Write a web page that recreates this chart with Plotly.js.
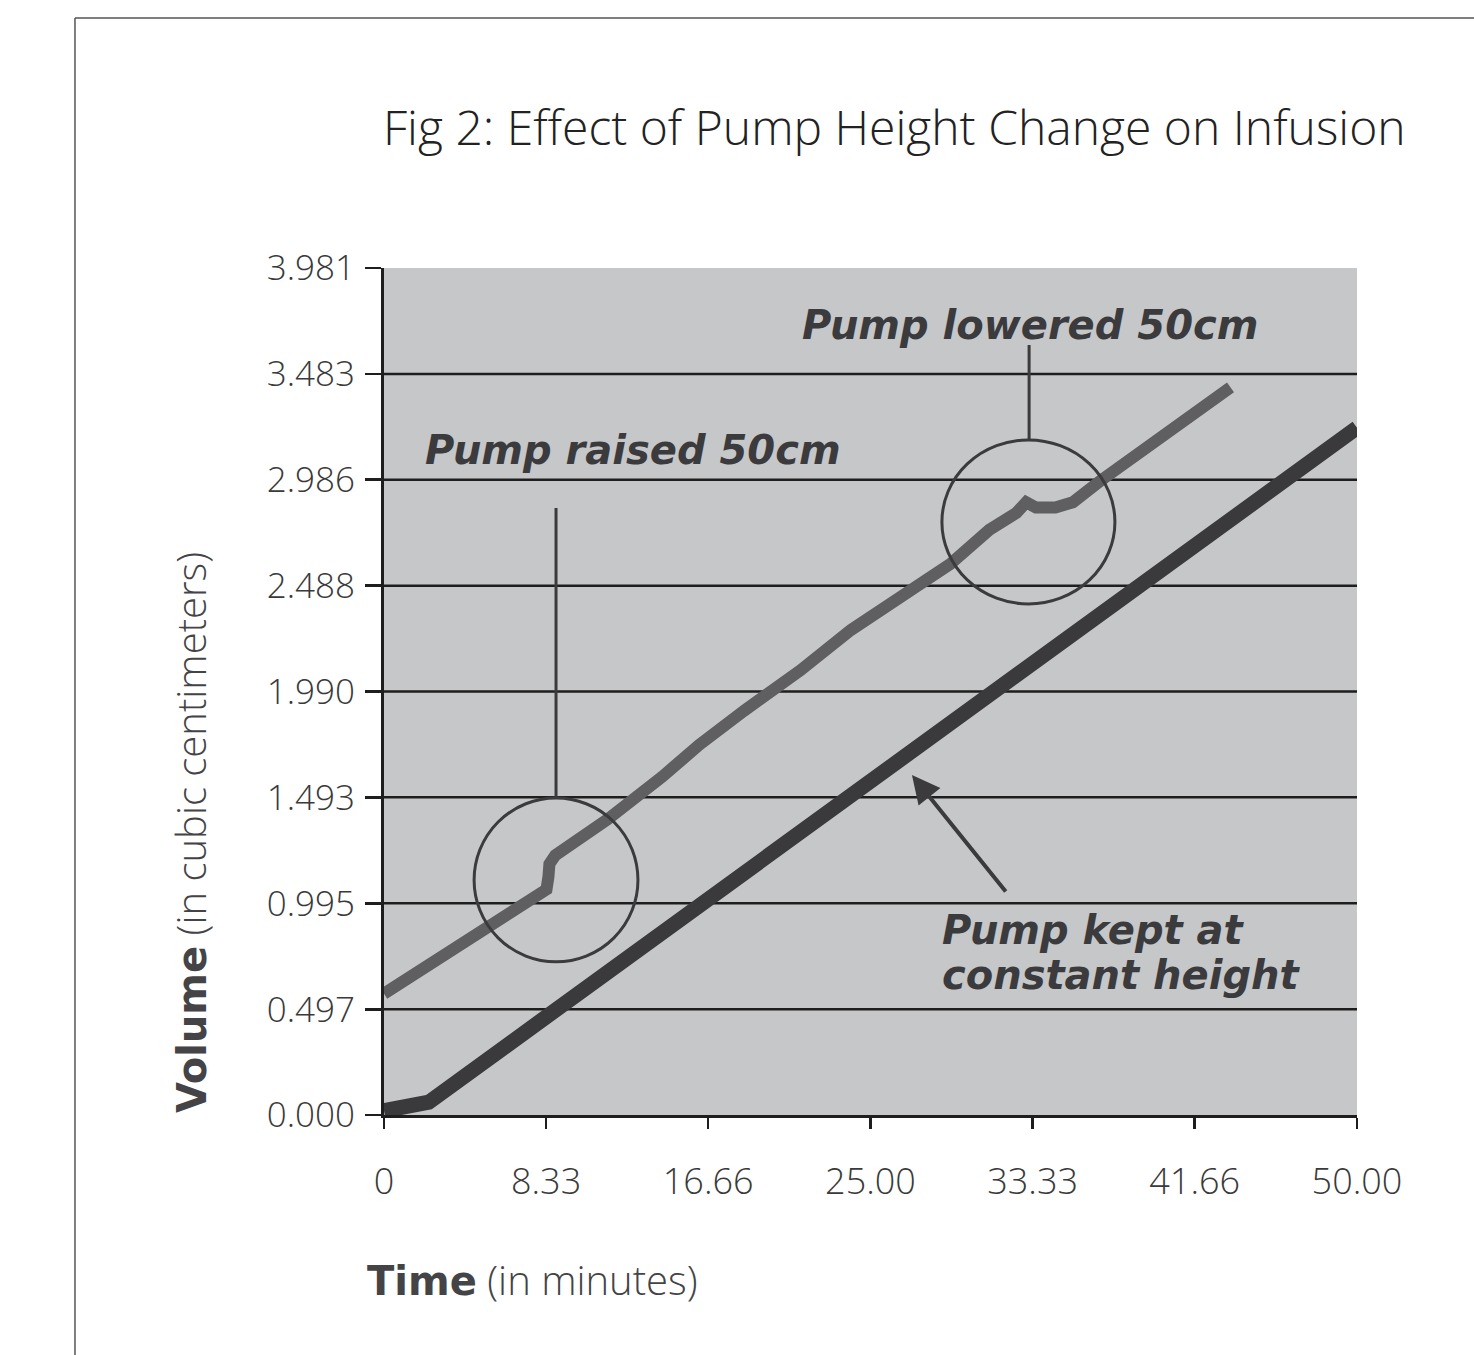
<!DOCTYPE html>
<html>
<head>
<meta charset="utf-8">
<script src="https://cdn.plot.ly/plotly-3.0.1.min.js"></script>
<style>
  html, body { margin: 0; padding: 0; background: #ffffff; }
  #chart { width: 1474px; height: 1355px; }
</style>
</head>
<body>
<div id="chart"></div>
<script>
// ---- data ----
const xTickVals = [0, 8.33, 16.66, 25.00, 33.33, 41.66, 50.00];
const xTickText = ["0", "8.33", "16.66", "25.00", "33.33", "41.66", "50.00"];
const yTickVals = [0.000, 0.497, 0.995, 1.493, 1.990, 2.488, 2.986, 3.483, 3.981];
const yTickText = ["0.000", "0.497", "0.995", "1.493", "1.990", "2.488", "2.986", "3.483", "3.981"];

// pump raised / lowered series (minutes, cc)
const raisedTime   = [0, 2.0, 4.9, 7.0, 8.35, 8.45, 8.5, 8.8, 9.6, 11.5, 14.3, 16.2, 18.5, 21.4, 24.0, 26.5, 29.1, 31.1, 32.5, 33.0, 33.5, 34.5, 35.4, 36.8, 39.7, 41.5, 43.5];
const raisedVolume = [0.57, 0.69, 0.86, 0.99, 1.06, 1.12, 1.18, 1.22, 1.27, 1.39, 1.59, 1.74, 1.90, 2.09, 2.28, 2.44, 2.59, 2.75, 2.83, 2.88, 2.855, 2.855, 2.88, 2.98, 3.17, 3.29, 3.42];

// pump kept at constant height
const constTime   = [0, 2.3, 50];
const constVolume = [0.02, 0.06, 3.23];

// annotation geometry (data units)
const circle1 = {x0: 4.63, x1: 13.05, y0: 0.72, y1: 1.49};
const leader1 = {x: 8.84, y0: 1.49, y1: 2.853};
const circle2 = {x0: 28.67, x1: 37.56, y0: 2.402, y1: 3.173};
const leader2 = {x: 33.15, y0: 3.173, y1: 3.619};
const arrowHead = {x: 27.13, y: 1.598};
const arrowTail = {x: 32.01, y: 1.043};

const labelFont = "'Open Sans', Roboto, 'Liberation Sans', sans-serif";
const boldFont = "'DejaVu Sans', 'Liberation Sans', sans-serif";
const darkInk = "#3b3b3d";

// gridlines (interior ticks only)
const gridShapes = yTickVals.filter(v => v > 0 && v < 3.9).map(v => ({
  type: 'line', xref: 'paper', yref: 'y', x0: 0, x1: 1, y0: v, y1: v,
  line: {color: '#1e1e1e', width: 2.5}, layer: 'below'
}));

const traces = [
  {
    x: raisedTime, y: raisedVolume, type: 'scatter', mode: 'lines',
    line: {color: '#5f5f61', width: 12}, hoverinfo: 'skip', showlegend: false
  },
  {
    x: constTime, y: constVolume, type: 'scatter', mode: 'lines',
    line: {color: '#3a3a3c', width: 15}, hoverinfo: 'skip', showlegend: false
  }
];

const shapes = gridShapes.concat([
  {type: 'circle', xref: 'x', yref: 'y', x0: circle1.x0, x1: circle1.x1, y0: circle1.y0, y1: circle1.y1,
   line: {color: darkInk, width: 3}},
  {type: 'line', xref: 'x', yref: 'y', x0: leader1.x, x1: leader1.x, y0: leader1.y0, y1: leader1.y1,
   line: {color: darkInk, width: 3}},
  {type: 'circle', xref: 'x', yref: 'y', x0: circle2.x0, x1: circle2.x1, y0: circle2.y0, y1: circle2.y1,
   line: {color: darkInk, width: 3}},
  {type: 'line', xref: 'x', yref: 'y', x0: leader2.x, x1: leader2.x, y0: leader2.y0, y1: leader2.y1,
   line: {color: darkInk, width: 3}},
  // page frame lines
  {type: 'line', xref: 'paper', yref: 'paper', x0: -0.3176, x1: -0.3176, y0: 1.2952, y1: -0.3,
   line: {color: '#555555', width: 1.5}},
  {type: 'line', xref: 'paper', yref: 'paper', x0: -0.3176, x1: 1.13, y0: 1.2952, y1: 1.2952,
   line: {color: '#555555', width: 1.5}}
]);

const annFont = {family: boldFont, size: 40, color: darkInk, weight: 'bold', style: 'italic'};

const annotations = [
  {x: -0.003, y: 1.167, xref: 'paper', yref: 'paper', text: 'Fig 2: Effect of Pump Height Change on Infusion',
   showarrow: false, xanchor: 'left', yanchor: 'middle',
   font: {family: labelFont, size: 48, color: '#222222', weight: 300}},
  {x: 12.8, y: 3.126, xref: 'x', yref: 'y', text: 'Pump raised 50cm', showarrow: false,
   font: annFont, xanchor: 'center', yanchor: 'middle'},
  {x: 33.2, y: 3.713, xref: 'x', yref: 'y', text: 'Pump lowered 50cm', showarrow: false,
   font: annFont, xanchor: 'center', yanchor: 'middle'},
  {x: 28.57, y: 0.870, xref: 'x', yref: 'y', text: 'Pump kept at', showarrow: false,
   font: annFont, xanchor: 'left', yanchor: 'middle', align: 'left'},
  {x: 28.57, y: 0.658, xref: 'x', yref: 'y', text: 'constant height', showarrow: false,
   font: annFont, xanchor: 'left', yanchor: 'middle', align: 'left'},
  {x: arrowHead.x, y: arrowHead.y, xref: 'x', yref: 'y', ax: arrowTail.x, ay: arrowTail.y,
   axref: 'x', ayref: 'y', text: '', showarrow: true, arrowhead: 2, arrowsize: 1.4,
   arrowwidth: 4, arrowcolor: darkInk, standoff: 0},
  {x: -0.1994, y: 0.334, xref: 'paper', yref: 'paper', textangle: -90,
   text: '<b style="font-family:DejaVu Sans">Volume</b> (in cubic centimeters)', showarrow: false,
   font: {family: labelFont, size: 40, color: '#444446', weight: 300}, xanchor: 'center', yanchor: 'middle'},
  {x: -0.0195, y: -0.1948, xref: 'paper', yref: 'paper',
   text: '<b style="font-family:DejaVu Sans">Time</b> (in minutes)', showarrow: false,
   font: {family: labelFont, size: 40, color: '#444446', weight: 300}, xanchor: 'left', yanchor: 'middle'}
];

const layout = {
  width: 1474, height: 1355,
  paper_bgcolor: '#ffffff', plot_bgcolor: '#c6c7c9',
  margin: {l: 384, r: 117, t: 268, b: 240, pad: 0},
  xaxis: {
    range: [0, 50], tickvals: xTickVals, ticktext: xTickText,
    showgrid: false, zeroline: false, showline: true, linecolor: '#1e1e1e', linewidth: 3,
    ticks: 'outside', ticklen: 11, tickwidth: 2.5, tickcolor: '#1e1e1e',
    ticklabelstandoff: 22,
    tickfont: {family: labelFont, size: 36, color: '#3a3a3a', weight: 300},
    fixedrange: true
  },
  yaxis: {
    range: [0, 3.981], tickvals: yTickVals, ticktext: yTickText,
    showgrid: false, zeroline: false, showline: true, linecolor: '#1e1e1e', linewidth: 3,
    ticks: 'outside', ticklen: 16, tickwidth: 2.5, tickcolor: '#1e1e1e',
    ticklabelstandoff: 3,
    tickfont: {family: labelFont, size: 35, color: '#3a3a3a', weight: 300},
    fixedrange: true
  },
  shapes: shapes,
  annotations: annotations,
  showlegend: false
};

Plotly.newPlot('chart', traces, layout, {displayModeBar: false, staticPlot: true});
</script>
</body>
</html>
